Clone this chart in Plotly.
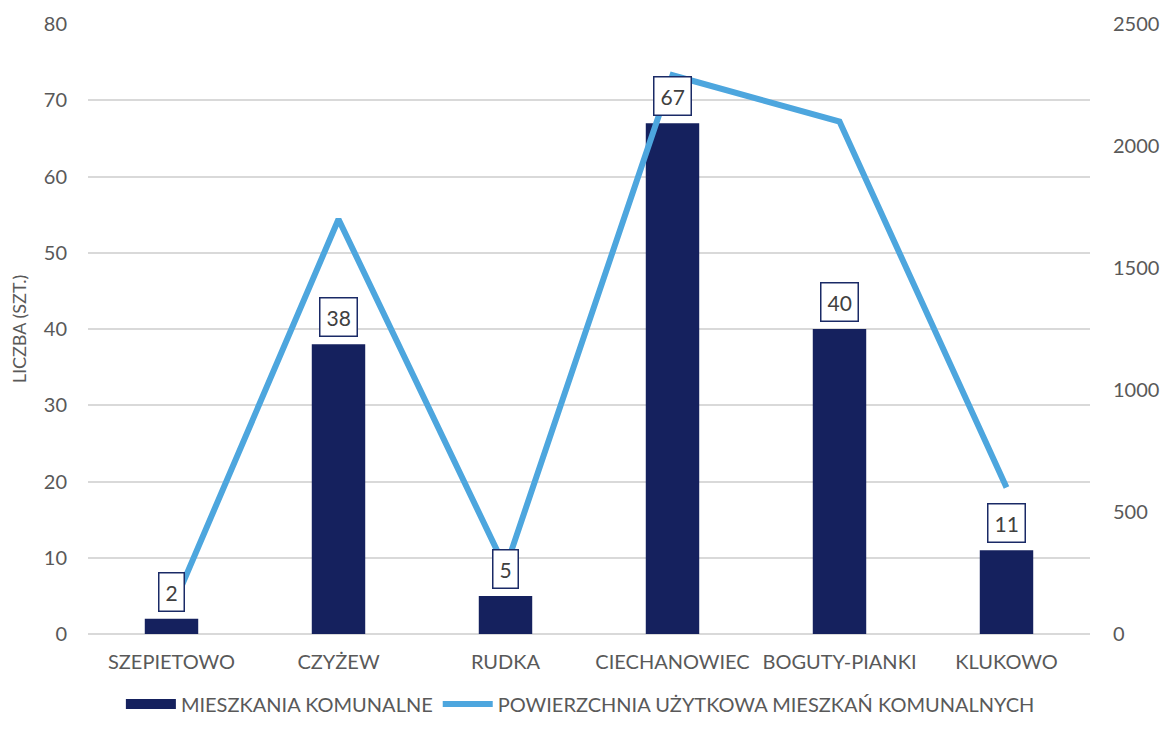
import plotly.graph_objects as go

gminy = ['SZEPIETOWO', 'CZYŻEW', 'RUDKA', 'CIECHANOWIEC', 'BOGUTY-PIANKI', 'KLUKOWO']
mieszkania = [2, 38, 5, 67, 40, 11]
powierzchnia = [100, 1700, 270, 2290, 2100, 600]

FONT = 'Lato'
GREY = '#595959'
NAVY = '#15215e'

fig = go.Figure()
fig.add_trace(go.Bar(
    x=gminy, y=mieszkania, name='MIESZKANIA KOMUNALNE',
    marker=dict(color=NAVY, line=dict(width=0)),
    width=0.32, showlegend=False,
))
# wide swatch for the bar series in the legend
fig.add_trace(go.Scatter(
    x=[None], y=[None], name='MIESZKANIA KOMUNALNE',
    mode='lines', line=dict(color=NAVY, width=12),
))
fig.add_trace(go.Scatter(
    x=gminy, y=powierzchnia, name='POWIERZCHNIA UŻYTKOWA MIESZKAŃ KOMUNALNYCH',
    mode='lines', yaxis='y2',
    line=dict(color='#4da6de', width=6),
))

for g, v in zip(gminy, mieszkania):
    fig.add_annotation(
        x=g, y=v, text=str(v), showarrow=False,
        yanchor='bottom', yshift=7,
        font=dict(family=FONT, size=21, color='#404040'),
        bgcolor='white', bordercolor='#1a2a66', borderwidth=1.5, borderpad=6,
    )

# page body has an 8px margin, so the figure is smaller than the window
fig.update_layout(
    width=1154, height=713,
    margin=dict(l=80, r=72, t=16, b=87, autoexpand=False),
    plot_bgcolor='white', paper_bgcolor='white',
    font=dict(family=FONT, size=20, color=GREY),
    showlegend=True,
    legend=dict(orientation='h', x=0.496, xanchor='center', xref='container',
                y=0.024, yanchor='middle', yref='container',
                font=dict(size=20, color=GREY), itemwidth=50),
    xaxis=dict(showgrid=False, showline=False, ticks='', ticklabelstandoff=14,
               automargin=False, tickfont=dict(size=20)),
    yaxis=dict(range=[0, 80], dtick=10, showgrid=True, gridcolor='#d9d9d9', gridwidth=1.5,
               zeroline=True, zerolinecolor='#d9d9d9', zerolinewidth=1.5,
               showline=False, ticklabelstandoff=20, automargin=False,
               title=dict(text='LICZBA (SZT.)', font=dict(size=18, color=GREY), standoff=12)),
    yaxis2=dict(range=[0, 2500], dtick=500, overlaying='y', side='right', automargin=False,
                showgrid=False, zeroline=False, showline=False, ticklabelstandoff=22),
)

fig.write_html('out.html')
